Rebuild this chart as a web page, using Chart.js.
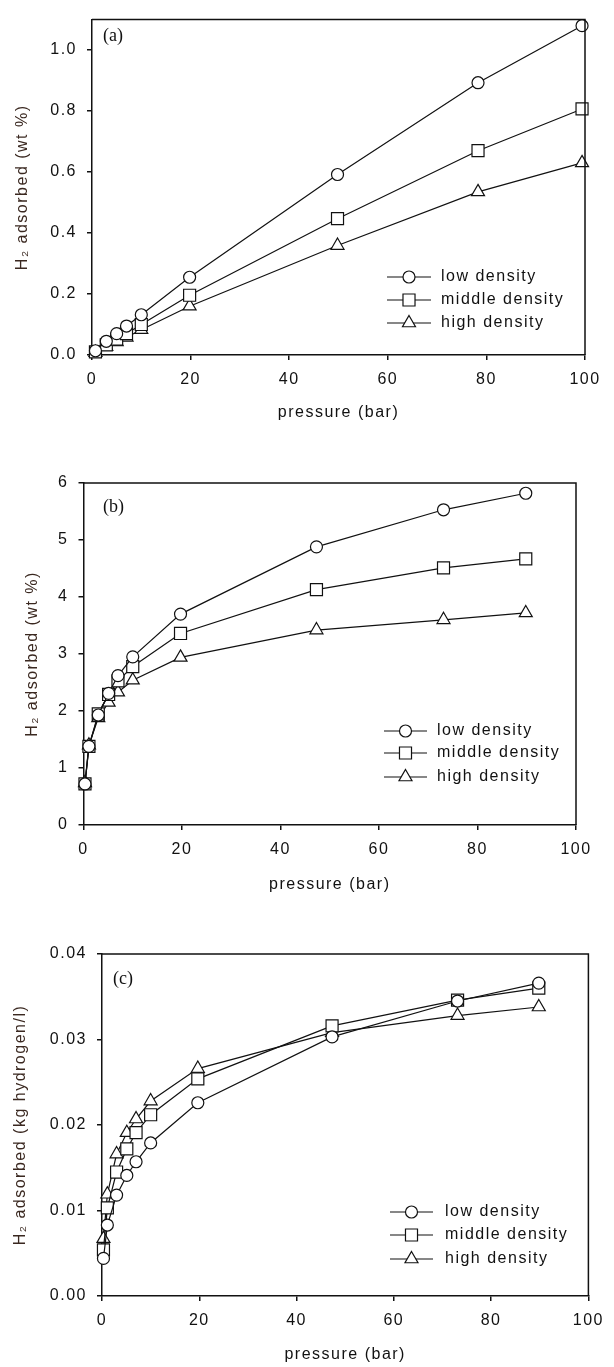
<!DOCTYPE html>
<html>
<head>
<meta charset="utf-8">
<script src="https://cdn.jsdelivr.net/npm/chart.js@4.4.1/dist/chart.umd.min.js"></script>
<style>
  html, body { margin: 0; padding: 0; background: #fff; }
  canvas { position: absolute; left: 0; }
</style>
</head>
<body>
<canvas id="chartA" style="top:0px"></canvas>
<canvas id="chartB" style="top:440px"></canvas>
<canvas id="chartC" style="top:900px"></canvas>
<script>
// shared x ticks (pressure, bar)
const xTicks = [0, 20, 40, 60, 80, 100];
const seriesNames = ['low density', 'middle density', 'high density'];

// (a) H2 adsorbed, wt %
const pressureA = [0.7, 2.9, 5.0, 7.0, 10.0, 19.8, 49.8, 78.3, 99.4];
const lowA = [0.014, 0.045, 0.070, 0.095, 0.132, 0.255, 0.592, 0.893, 1.080];
const middleA = [0.010, 0.033, 0.052, 0.070, 0.100, 0.196, 0.447, 0.670, 0.807];
const highA = [0.008, 0.027, 0.043, 0.058, 0.083, 0.160, 0.359, 0.535, 0.630];
const yTicksA = [0, 0.2, 0.4, 0.6, 0.8, 1.0];

// (b) and (c) share the same pressure points
const pressureBC = [0.3, 1.1, 3.0, 5.1, 7.0, 10.0, 19.7, 47.3, 73.1, 89.8];

// (b) H2 adsorbed, wt %
const lowB = [0.72, 1.38, 1.93, 2.31, 2.62, 2.95, 3.70, 4.88, 5.53, 5.82];
const middleB = [0.72, 1.38, 1.95, 2.29, 2.53, 2.78, 3.36, 4.13, 4.51, 4.67];
const highB = [0.74, 1.40, 1.88, 2.15, 2.33, 2.54, 2.94, 3.42, 3.60, 3.72];
const yTicksB = [0, 1, 2, 3, 4, 5, 6];

// (c) H2 adsorbed, kg hydrogen/l
const lowC = [0.0044, 0.0083, 0.0118, 0.0141, 0.0157, 0.0179, 0.0226, 0.0303, 0.0345, 0.0366];
const middleC = [0.0054, 0.0103, 0.0145, 0.0172, 0.0191, 0.0212, 0.0254, 0.0316, 0.0346, 0.0360];
const highC = [0.0067, 0.0119, 0.0166, 0.0191, 0.0207, 0.0228, 0.0266, 0.0308, 0.0328, 0.0338];
const yTicksC = [0, 0.01, 0.02, 0.03, 0.04];

Chart.defaults.font.family = "'Liberation Sans', Arial, sans-serif";
Chart.defaults.font.size = 16;
Chart.defaults.color = '#111';

const INK = '#111';
const TEXT = '#111';
const markers = [
  { style: 'circle', radius: 6 },
  { style: 'rect', radius: 8.5 },
  { style: 'triangle', radius: 7.5 }
];

function drawMarker(ctx, m, x, y) {
  ctx.fillStyle = '#fff';
  ctx.strokeStyle = INK;
  ctx.lineWidth = 1.2;
  Chart.helpers.drawPoint(ctx, { pointStyle: m.style, radius: m.radius, rotation: 0, borderWidth: 1.2 }, x, y);
}

function makePanel(p) {
  const canvas = document.getElementById(p.id);
  canvas.width = 614;
  canvas.height = p.height;
  canvas.style.width = '614px';
  canvas.style.height = p.height + 'px';

  const series = [p.low, p.middle, p.high];

  const decor = {
    id: 'decor_' + p.id,
    beforeLayout(chart) { chart.ctx.letterSpacing = '1.5px'; },
    beforeDraw(chart) { chart.ctx.letterSpacing = '1.5px'; },
    afterDraw(chart) {
      const { ctx, chartArea: a } = chart;
      ctx.save();
      // top and right frame
      ctx.strokeStyle = INK;
      ctx.lineWidth = 1.5;
      ctx.beginPath();
      ctx.moveTo(a.left, a.top);
      ctx.lineTo(a.right, a.top);
      ctx.lineTo(a.right, a.bottom);
      ctx.stroke();

      // panel tag
      ctx.letterSpacing = '0px';
      ctx.fillStyle = TEXT;
      ctx.font = "18px 'Liberation Serif', 'Times New Roman', serif";
      ctx.textBaseline = 'middle';
      ctx.textAlign = 'left';
      ctx.fillText(p.tag, p.tagPos[0], p.tagPos[1]);

      // legend
      const lg = p.legend;
      ctx.font = "16px 'Liberation Sans', Arial, sans-serif";
      ctx.letterSpacing = '1.5px';
      seriesNames.forEach((name, i) => {
        const y = lg.rows[i];
        ctx.strokeStyle = INK;
        ctx.lineWidth = 1.2;
        ctx.beginPath();
        ctx.moveTo(lg.x0, y);
        ctx.lineTo(lg.x1, y);
        ctx.stroke();
        drawMarker(ctx, markers[i], (lg.x0 + lg.x1) / 2, y);
        ctx.fillStyle = TEXT;
        ctx.fillText(name, lg.text, y);
      });
      ctx.restore();
    }
  };

  return new Chart(canvas, {
    type: 'line',
    data: {
      datasets: series.map((vals, i) => ({
        label: seriesNames[i],
        data: p.pressure.map((x, j) => ({ x: x, y: vals[j] })),
        borderColor: INK,
        borderWidth: 1.2,
        tension: 0,
        pointStyle: markers[i].style,
        pointRadius: markers[i].radius,
        pointBackgroundColor: '#fff',
        pointBorderColor: INK,
        pointBorderWidth: 1.2,
        clip: false
      }))
    },
    options: {
      responsive: false,
      animation: false,
      devicePixelRatio: 1,
      layout: { padding: p.pad },
      plugins: { legend: { display: false }, tooltip: { enabled: false } },
      scales: {
        x: {
          type: 'linear',
          min: 0,
          max: 100,
          afterBuildTicks: s => { s.ticks = xTicks.map(v => ({ value: v })); },
          afterFit: s => { s.height = 70; },
          ticks: { padding: 10, color: TEXT, callback: v => String(v) },
          grid: { drawOnChartArea: false, drawTicks: true, tickLength: 5, color: INK, lineWidth: 1.5 },
          border: { display: true, color: INK, width: 1.5 },
          title: { display: true, text: 'pressure (bar)', color: TEXT, padding: { top: 0, bottom: p.xTitlePad } }
        },
        y: {
          type: 'linear',
          min: 0,
          max: p.yMax,
          afterBuildTicks: s => { s.ticks = p.yTicks.map(v => ({ value: v })); },
          afterFit: s => { s.width = p.yWidth; },
          ticks: { padding: 10, color: TEXT, callback: v => Number(v).toFixed(p.decimals) },
          grid: { drawOnChartArea: false, drawTicks: true, tickLength: 5, color: INK, lineWidth: 1.5 },
          border: { display: true, color: INK, width: 1.5 },
          title: { display: true, text: p.yTitle, color: '#3a2820', padding: { top: p.yTitlePad, bottom: 0 } }
        }
      }
    },
    plugins: [decor]
  });
}

makePanel({
  id: 'chartA', height: 440,
  pad: { top: 12.5, right: 29, bottom: 15, left: 0 },
  yWidth: 92, xTitlePad: 2.4, yTitlePad: 13.4,
  yMax: 1.1, yTicks: yTicksA, decimals: 1, yTitle: 'H₂ adsorbed (wt %)',
  pressure: pressureA, low: lowA, middle: middleA, high: highA,
  tag: '(a)', tagPos: [103, 36],
  legend: { x0: 387, x1: 431, text: 441, rows: [277, 300, 323] }
});

makePanel({
  id: 'chartB', height: 460,
  pad: { top: 43, right: 38, bottom: 5, left: 0 },
  yWidth: 83.5, xTitlePad: 0.4, yTitlePad: 23.4,
  yMax: 6, yTicks: yTicksB, decimals: 0, yTitle: 'H₂ adsorbed (wt %)',
  pressure: pressureBC, low: lowB, middle: middleB, high: highB,
  tag: '(b)', tagPos: [103, 67],
  legend: { x0: 384, x1: 427, text: 437, rows: [291, 313, 337] }
});

makePanel({
  id: 'chartC', height: 467,
  pad: { top: 54, right: 14, bottom: 1, left: 0 },
  yWidth: 102, xTitlePad: 1.4, yTitlePad: 11.4,
  yMax: 0.04, yTicks: yTicksC, decimals: 2, yTitle: 'H₂ adsorbed (kg hydrogen/l)',
  pressure: pressureBC, low: lowC, middle: middleC, high: highC,
  tag: '(c)', tagPos: [113, 79],
  legend: { x0: 390, x1: 433, text: 445, rows: [312, 335, 359] }
});
</script>
</body>
</html>
